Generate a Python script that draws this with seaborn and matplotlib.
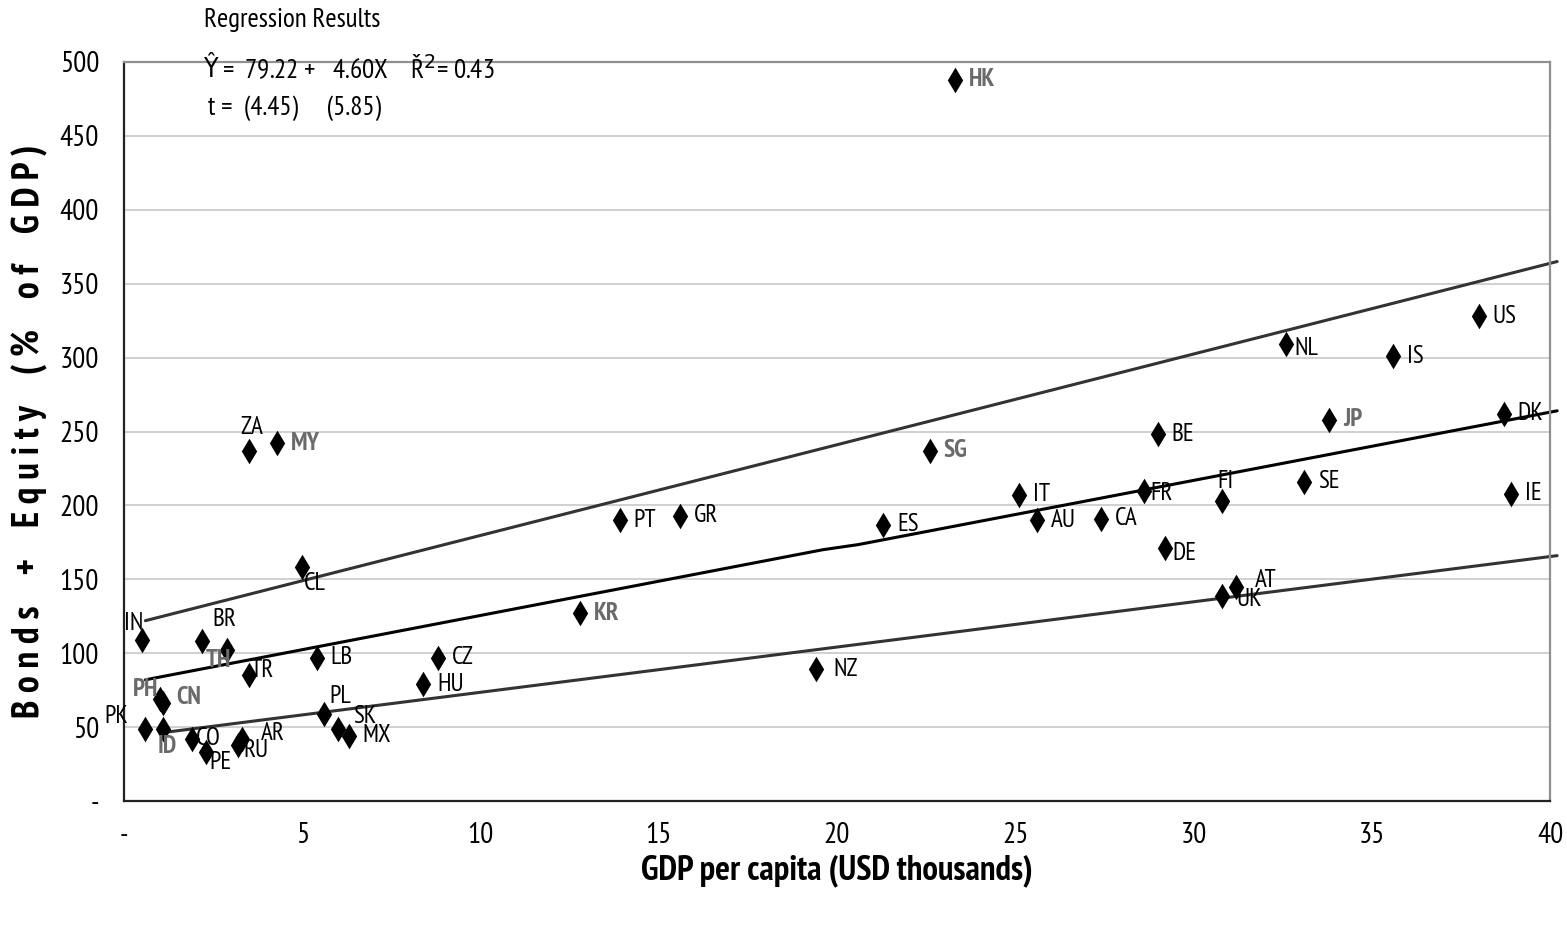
import matplotlib
matplotlib.use("Agg")
import matplotlib.pyplot as plt
from matplotlib import font_manager
import pandas as pd
import seaborn as sns

# country codes and values
countries = ["HK", "US", "NL", "IS", "JP", "DK", "IE", "SE", "FI", "BE", "FR", "DE",
             "AT", "UK", "CA", "IT", "AU", "ES", "SG", "NZ", "KR", "GR", "PT", "CZ",
             "HU", "MX", "SK", "PL", "LB", "CL", "MY", "ZA", "TR", "BR", "TH", "IN",
             "PH", "CN", "PK", "ID", "CO", "PE", "RU", "AR"]
gdp_pc = [23.3, 38.0, 32.6, 35.6, 33.8, 38.7, 38.9, 33.1, 30.8, 29.0, 28.6, 29.2,
          31.2, 30.8, 27.4, 25.1, 25.6, 21.3, 22.6, 19.4, 12.8, 15.6, 13.9, 8.8,
          8.4, 6.3, 6.0, 5.6, 5.4, 5.0, 4.3, 3.5, 3.5, 2.2, 2.9, 0.5,
          1.0, 1.1, 0.6, 1.1, 1.9, 2.3, 3.2, 3.3]
bonds_equity = [488, 328, 309, 301, 258, 262, 208, 216, 203, 248, 210, 171,
                145, 139, 191, 207, 190, 187, 237, 89, 127, 193, 190, 97,
                79, 44, 49, 59, 97, 158, 242, 237, 85, 108, 102, 109,
                69, 66, 49, 49, 42, 33, 38, 42]
asian = ["HK", "JP", "SG", "KR", "MY", "TH", "PH", "CN", "ID"]

# fitted line and band lines
fit_x = [0.6, 19.6, 20.6, 40.2]
fit_y = [82, 170, 173.5, 264]
upper_x = [0.6, 40.2]
upper_y = [122, 365]
lower_x = [1.0, 40.2]
lower_y = [46, 166]

xticks = [0, 5, 10, 15, 20, 25, 30, 35, 40]
yticks = [0, 50, 100, 150, 200, 250, 300, 350, 400, 450, 500]

# label offsets in pixels (dx, dy, ha)
offsets = {
    "FI": (3, 19, "center"), "NL": (8, -4, "left"), "FR": (7, -3, "left"),
    "DE": (7, -5, "left"), "AT": (19, 6, "left"), "UK": (14, -4, "left"),
    "SK": (15, 12, "left"), "PL": (6, 17, "left"), "CL": (2, -16, "left"),
    "ZA": (3, 23, "center"), "TR": (2, 5, "left"), "BR": (22, 22, "center"),
    "TH": (-9, -10, "center"), "IN": (2, 16, "right"), "PH": (-1, 10, "right"),
    "CN": (13, 6, "left"), "PK": (-17, 12, "right"), "ID": (4, -18, "center"),
    "CO": (4, 0, "left"), "PE": (3, -10, "left"), "RU": (5, -6, "left"),
    "AR": (19, 5, "left"), "NZ": (18, 0, "left"), "IT": (14, 1, "left"),
}

df = pd.DataFrame({"country": countries, "gdp": gdp_pc, "be": bonds_equity})

sns.set_style("white")
names = {f.name for f in font_manager.fontManager.ttflist}
narrow = "DejaVu Sans"
for cand in ["Liberation Sans Narrow", "PT Sans Narrow", "Roboto Condensed", "Archivo Narrow"]:
    if cand in names:
        narrow = cand
        break
plt.rcParams["font.family"] = [narrow, "DejaVu Sans"]
plt.rcParams["text.color"] = "black"
plt.rcParams["xtick.color"] = "black"
plt.rcParams["ytick.color"] = "black"
plt.rcParams["axes.labelcolor"] = "black"

fig = plt.figure(figsize=(15.67, 9.41), dpi=100)
ax = fig.add_axes([124 / 1567, 1 - 801 / 941, (1550 - 124) / 1567, (801 - 62) / 941])

ax.yaxis.grid(True, color="#c8c8c8", linewidth=1.2)
ax.set_axisbelow(True)

ax.plot(upper_x, upper_y, color="#333333", linewidth=2.2, clip_on=False)
ax.plot(fit_x, fit_y, color="black", linewidth=2.2, clip_on=False)
ax.plot(lower_x, lower_y, color="#333333", linewidth=2.2, clip_on=False)

sns.scatterplot(data=df, x="gdp", y="be", marker="d", s=170, color="black",
                edgecolor="black", linewidth=0, ax=ax, zorder=3)

for c, x, y in zip(countries, gdp_pc, bonds_equity):
    dx, dy, ha = offsets.get(c, (14, 0, "left"))
    if c in asian:
        col, wt = "#6a6a6a", "bold"
    else:
        col, wt = "black", "normal"
    ax.annotate(c, (x, y), xytext=(dx * 0.72, dy * 0.72), textcoords="offset points",
                ha=ha, va="center", fontsize=18, color=col, fontweight=wt, zorder=4)

ax.set_xlim(0, 40)
ax.set_ylim(0, 500)
ax.set_xticks(xticks)
ax.set_yticks(yticks)
ax.set_xticklabels(["-"] + [str(t) for t in xticks[1:]], fontsize=21)
ax.set_yticklabels(["-"] + [str(t) for t in yticks[1:]], fontsize=21)
ax.tick_params(axis="x", direction="out", length=8, width=1, pad=7, color="#333333")
ax.tick_params(axis="y", direction="out", length=8, width=1, pad=10, color="#333333")

for side in ["left", "bottom"]:
    ax.spines[side].set_color("#222222")
    ax.spines[side].set_linewidth(1.6)
for side in ["top", "right"]:
    ax.spines[side].set_color("#909090")
    ax.spines[side].set_linewidth(1.6)

ax.set_xlabel("GDP per capita (USD thousands)", fontsize=25, fontweight="bold", labelpad=4)
ax.set_ylabel("B o n d s    +    E q u i t y    ( %    o f    G D P )", fontsize=27,
              fontweight="bold", labelpad=8)

# regression box text
fig.text(204 / 1567, 1 - 20 / 941, "Regression Results", fontsize=19.5, va="center")
fig.text(204 / 1567, 1 - 70 / 941, "Ŷ", fontsize=19, va="center",
         family="DejaVu Sans", stretch="condensed")
fig.text(222 / 1567, 1 - 70 / 941, "=  79.22 +   4.60X    Ř$^2$= 0.43", fontsize=19.5, va="center")
fig.text(208 / 1567, 1 - 108 / 941, "t =  (4.45)     (5.85)", fontsize=19.5, va="center")

fig.savefig("out.png", dpi=100)
